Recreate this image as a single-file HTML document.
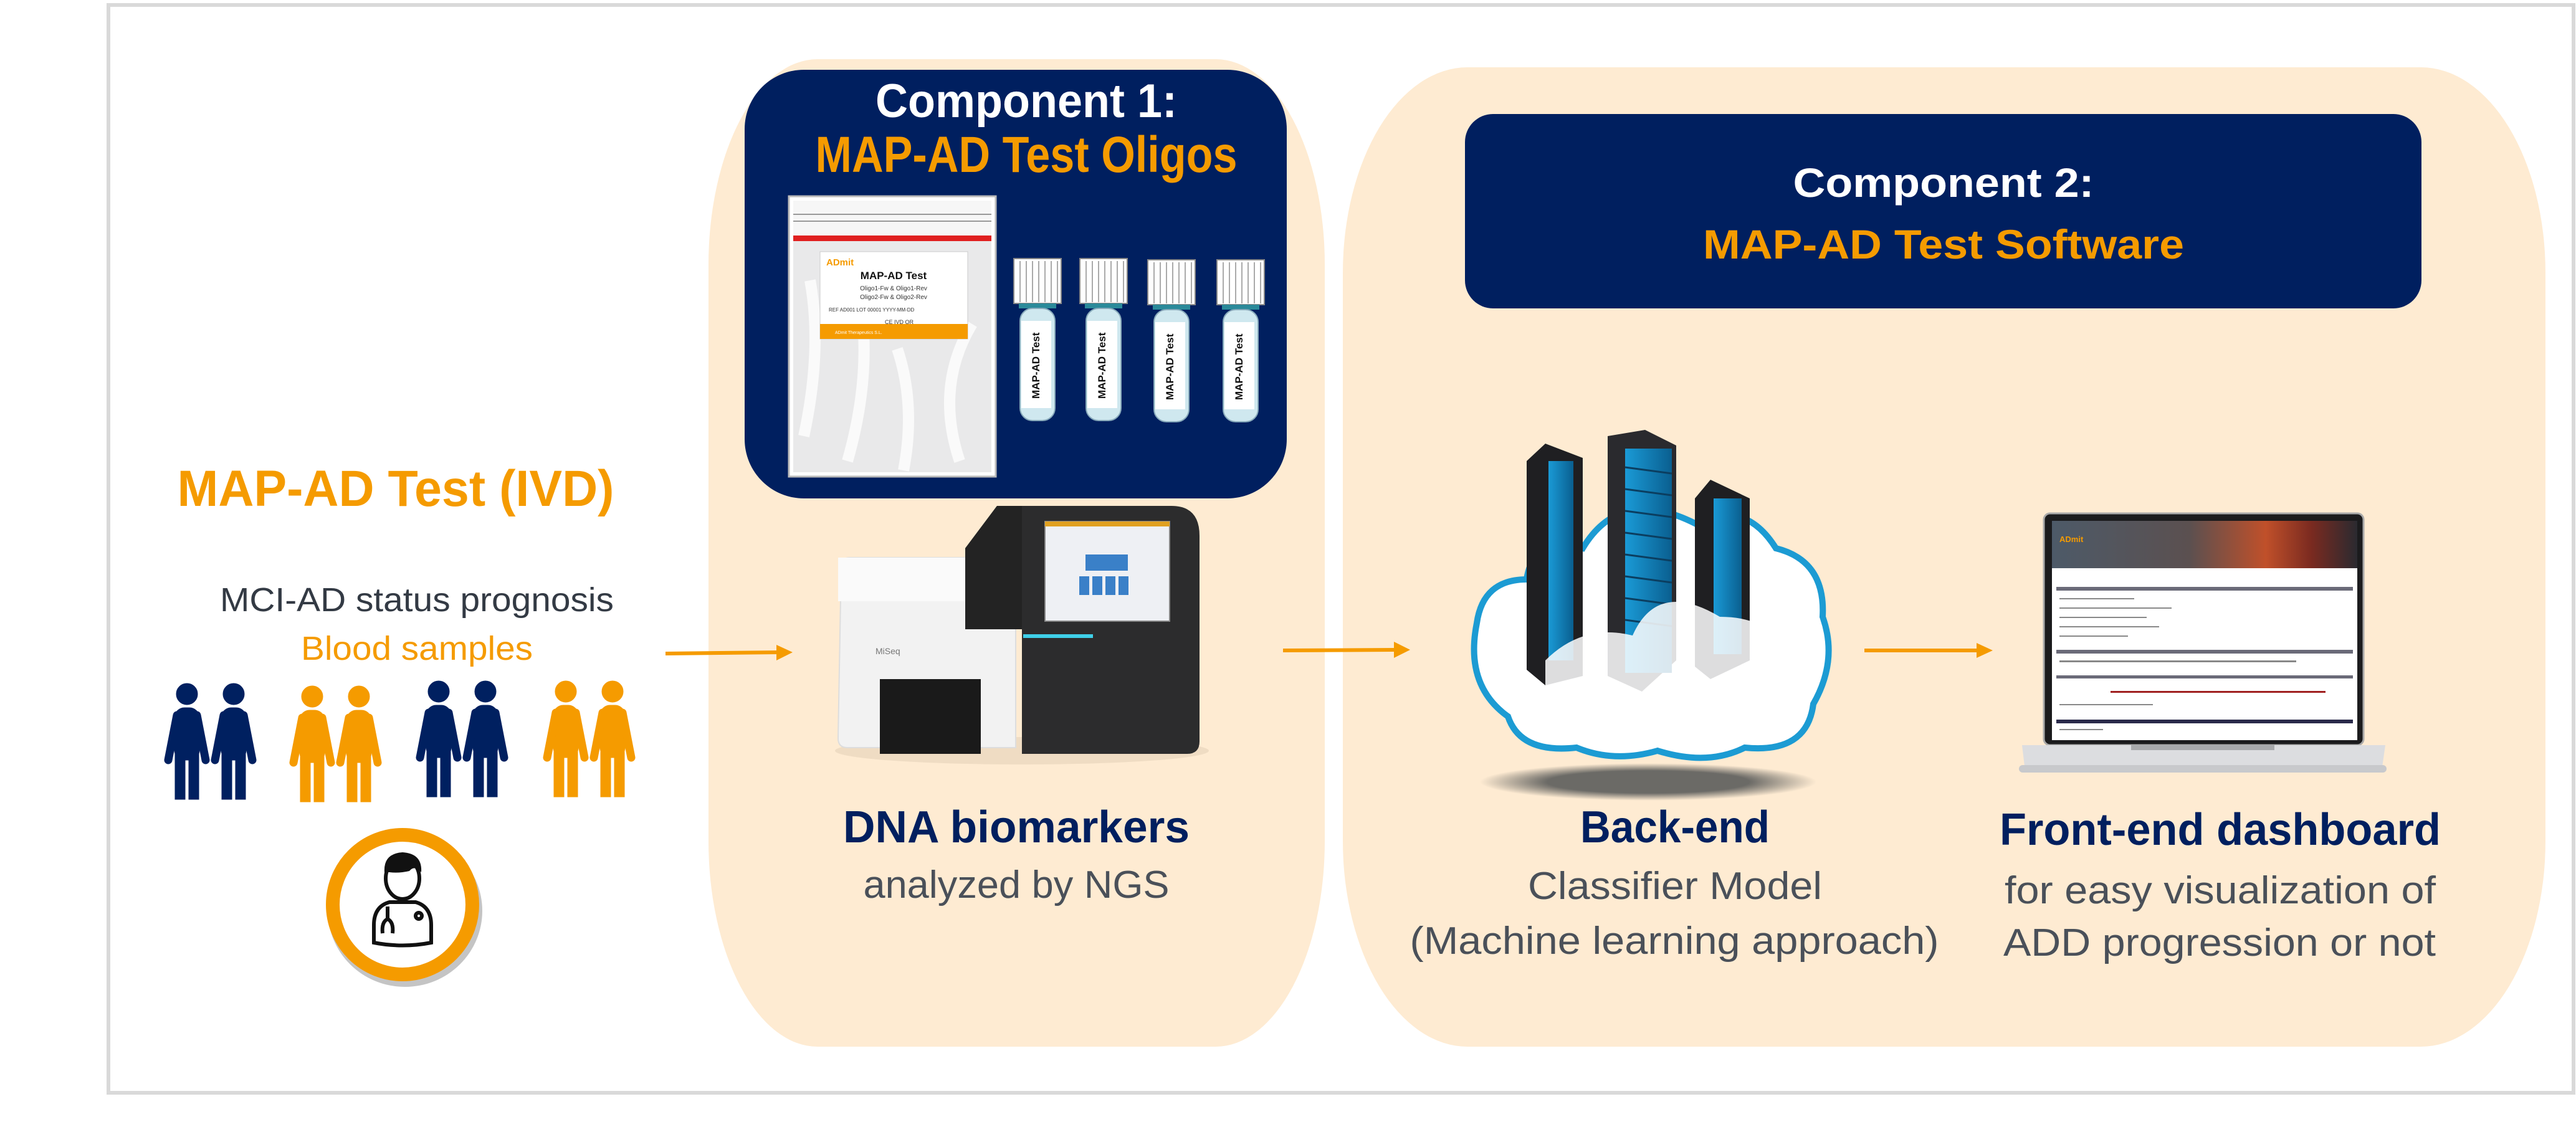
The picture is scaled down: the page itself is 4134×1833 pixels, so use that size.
<!DOCTYPE html>
<html><head><meta charset="utf-8"><style>
html,body{margin:0;padding:0;background:#fff;width:4134px;height:1833px;overflow:hidden}
svg{display:block}
text{font-family:"Liberation Sans",sans-serif}
</style></head><body>
<svg width="4134" height="1833" viewBox="0 0 4134 1833" xmlns="http://www.w3.org/2000/svg">
<defs>
<radialGradient id="sh" cx="50%" cy="50%" r="50%"><stop offset="0.6" stop-color="#6b6a66"/><stop offset="1" stop-color="#6b6a66" stop-opacity="0"/></radialGradient>
<linearGradient id="hdr" x1="0" x2="1"><stop offset="0" stop-color="#4d5a68"/><stop offset="0.45" stop-color="#5b5050"/><stop offset="0.7" stop-color="#c0502a"/><stop offset="0.85" stop-color="#7a2a20"/><stop offset="1" stop-color="#2a2a30"/></linearGradient>
<linearGradient id="srv" x1="0" x2="1"><stop offset="0" stop-color="#1a9ad6"/><stop offset="1" stop-color="#0a5f90"/></linearGradient>
<g id="person">
<circle cx="42" cy="18" r="17"/>
<rect x="22" y="40" width="40" height="84" rx="16"/>
<rect x="23" y="100" width="16" height="87"/>
<rect x="45" y="100" width="16" height="87"/>
<line x1="26" y1="52" x2="12" y2="124" stroke-width="13" stroke-linecap="round"/>
<line x1="58" y1="52" x2="72" y2="124" stroke-width="13" stroke-linecap="round"/>
</g>
<g id="tube">
<rect x="0" y="0" width="76" height="72" fill="#fff" stroke="#888" stroke-width="2"/>
<g stroke="#aaa" stroke-width="2"><line x1="10" y1="4" x2="10" y2="70"/><line x1="20" y1="4" x2="20" y2="70"/><line x1="30" y1="4" x2="30" y2="70"/><line x1="40" y1="4" x2="40" y2="70"/><line x1="50" y1="4" x2="50" y2="70"/><line x1="60" y1="4" x2="60" y2="70"/><line x1="70" y1="4" x2="70" y2="70"/></g>
<rect x="8" y="72" width="60" height="8" fill="#2b8a9a"/>
<rect x="10" y="80" width="56" height="180" rx="20" fill="#cfe8ef" stroke="#8ab" stroke-width="2"/>
<rect x="12" y="100" width="48" height="140" fill="#fff"/>
</g>
</defs>

<!-- outer frame -->
<rect x="174" y="8" width="3956" height="1746" fill="#fff" stroke="#d9d9d9" stroke-width="6"/>

<!-- panels -->
<rect x="1137" y="95" width="989" height="1585" rx="175" ry="330" fill="#feebd2"/>
<rect x="2155" y="108" width="1930" height="1572" rx="200" ry="330" fill="#feebd2"/>

<!-- component 1 navy -->
<rect x="1195" y="112" width="870" height="688" rx="95" fill="#001f5f"/>
<text x="1647" y="188" font-size="76" font-weight="bold" fill="#fff" text-anchor="middle" textLength="484" lengthAdjust="spacingAndGlyphs">Component 1:</text>
<text x="1647" y="276" font-size="82" font-weight="bold" fill="#f59b00" text-anchor="middle" textLength="677" lengthAdjust="spacingAndGlyphs">MAP-AD Test Oligos</text>

<!-- kit bag -->
<rect x="1266" y="315" width="332" height="450" fill="#fff" stroke="#bbb" stroke-width="3"/>
<rect x="1273" y="322" width="318" height="436" fill="#e9e9ea"/>
<path d="M1290 700 Q1320 560 1300 450 M1360 740 Q1400 600 1380 480 M1540 740 Q1500 620 1560 520 M1450 755 Q1470 650 1440 560" stroke="#fafafa" stroke-width="18" fill="none"/>
<rect x="1273" y="322" width="318" height="60" fill="#f6f6f6"/>
<line x1="1273" y1="344" x2="1591" y2="344" stroke="#999" stroke-width="2"/>
<line x1="1273" y1="355" x2="1591" y2="355" stroke="#999" stroke-width="2"/>
<rect x="1273" y="378" width="318" height="9" fill="#e02020"/>
<rect x="1316" y="404" width="237" height="140" fill="#fff" stroke="#ccc"/>
<text x="1326" y="426" font-size="15" font-weight="bold" fill="#f59b00">ADmit</text>
<text x="1434" y="448" font-size="17" font-weight="bold" fill="#111" text-anchor="middle">MAP-AD Test</text>
<text x="1434" y="466" font-size="10" fill="#333" text-anchor="middle">Oligo1-Fw &amp; Oligo1-Rev</text>
<text x="1434" y="480" font-size="10" fill="#333" text-anchor="middle">Oligo2-Fw &amp; Oligo2-Rev</text>
<text x="1330" y="500" font-size="8" fill="#333">REF AD001   LOT 00001   YYYY-MM-DD</text>
<text x="1420" y="520" font-size="9" fill="#333">CE  IVD  QR</text>
<rect x="1316" y="520" width="237" height="24" fill="#f59b00"/>
<text x="1340" y="536" font-size="7" fill="#fff">ADmit Therapeutics S.L.</text>

<!-- tubes -->
<use href="#tube" x="1627" y="415"/>
<use href="#tube" x="1733" y="415"/>
<use href="#tube" x="1842" y="417"/>
<use href="#tube" x="1953" y="417"/>
<g font-size="17" font-weight="bold" fill="#111">
<text transform="translate(1668,640) rotate(-90)">MAP-AD Test</text>
<text transform="translate(1774,640) rotate(-90)">MAP-AD Test</text>
<text transform="translate(1883,642) rotate(-90)">MAP-AD Test</text>
<text transform="translate(1994,642) rotate(-90)">MAP-AD Test</text>
</g>

<!-- sequencer -->
<ellipse cx="1640" cy="1205" rx="300" ry="22" fill="#e8d6bc" opacity="0.7"/>
<path d="M1350 905 Q1350 895 1365 895 L1550 895 L1630 960 L1630 1200 L1360 1200 Q1345 1200 1345 1185 Z" fill="#f2f2f2" stroke="#ddd" stroke-width="2"/>
<rect x="1345" y="895" width="250" height="70" fill="#fafafa"/>
<path d="M1600 812 L1880 812 Q1925 812 1925 860 L1925 1190 Q1925 1210 1905 1210 L1640 1210 L1640 1010 L1549 1010 L1549 880 Z" fill="#2c2c2d"/>
<path d="M1549 880 L1600 812 L1640 812 L1640 1010 L1549 1010 Z" fill="#232323"/>
<rect x="1412" y="1090" width="162" height="120" fill="#1a1a1a"/>
<rect x="1677" y="837" width="200" height="160" fill="#eef0f4" stroke="#888" stroke-width="2"/>
<rect x="1677" y="837" width="200" height="8" fill="#e0a020"/>
<rect x="1742" y="890" width="68" height="26" fill="#3a80c8"/>
<rect x="1732" y="925" width="16" height="30" fill="#3a80c8"/><rect x="1753" y="925" width="16" height="30" fill="#3a80c8"/><rect x="1774" y="925" width="16" height="30" fill="#3a80c8"/><rect x="1795" y="925" width="16" height="30" fill="#3a80c8"/>
<rect x="1642" y="1018" width="112" height="6" fill="#3fd0e8"/>
<text x="1405" y="1050" font-size="14" fill="#777">MiSeq</text>

<text x="1631" y="1352" font-size="72" font-weight="bold" fill="#001f5f" text-anchor="middle" textLength="556" lengthAdjust="spacingAndGlyphs">DNA biomarkers</text>
<text x="1631" y="1441" font-size="62" fill="#4a5059" text-anchor="middle" textLength="491" lengthAdjust="spacingAndGlyphs">analyzed by NGS</text>

<!-- component 2 navy -->
<rect x="2351" y="183" width="1535" height="312" rx="45" fill="#001f5f"/>
<text x="3119" y="316" font-size="66" font-weight="bold" fill="#fff" text-anchor="middle" textLength="483" lengthAdjust="spacingAndGlyphs">Component 2:</text>
<text x="3119" y="415" font-size="66" font-weight="bold" fill="#f59b00" text-anchor="middle" textLength="772" lengthAdjust="spacingAndGlyphs">MAP-AD Test Software</text>

<!-- cloud servers -->
<ellipse cx="2645" cy="1255" rx="270" ry="30" fill="url(#sh)"/>
<g fill="#fff" stroke="#1c9bd3" stroke-width="10">
<path d="M2420 1150 Q2350 1100 2370 1000 Q2380 930 2450 930 Q2460 860 2540 880 Q2600 780 2720 840 Q2800 800 2850 880 Q2930 900 2925 990 Q2950 1060 2910 1130 Q2900 1210 2800 1200 Q2740 1230 2660 1205 Q2590 1225 2530 1200 Q2440 1210 2420 1150 Z"/>
</g>
<g>
<polygon points="2450,740 2480,712 2540,735 2540,1085 2480,1100 2450,1075" fill="#1f1f22"/>
<rect x="2485" y="740" width="40" height="320" fill="url(#srv)"/>
<polygon points="2720,800 2745,770 2808,800 2808,1060 2745,1090 2720,1070" fill="#1f1f22"/>
<rect x="2750" y="800" width="45" height="250" fill="url(#srv)"/>
<polygon points="2580,700 2640,690 2690,715 2690,1060 2635,1110 2580,1085" fill="#2a2a2e"/>
<rect x="2608" y="720" width="75" height="360" fill="url(#srv)"/>
<g stroke="#0b3e60" stroke-width="3">
<line x1="2608" y1="750" x2="2683" y2="760"/><line x1="2608" y1="785" x2="2683" y2="795"/><line x1="2608" y1="820" x2="2683" y2="830"/><line x1="2608" y1="855" x2="2683" y2="865"/><line x1="2608" y1="890" x2="2683" y2="900"/><line x1="2608" y1="925" x2="2683" y2="935"/><line x1="2608" y1="960" x2="2683" y2="970"/><line x1="2608" y1="995" x2="2683" y2="1005"/>
</g>
</g>
<path d="M2480 1060 Q2540 1000 2620 1020 Q2660 930 2760 990 Q2850 990 2870 1060 Q2900 1150 2800 1180 L2480 1180 Z" fill="#fff" opacity="0.85"/>

<text x="2688" y="1352" font-size="72" font-weight="bold" fill="#001f5f" text-anchor="middle" textLength="304" lengthAdjust="spacingAndGlyphs">Back-end</text>
<text x="2688" y="1443" font-size="62" fill="#4a5059" text-anchor="middle" textLength="472" lengthAdjust="spacingAndGlyphs">Classifier Model</text>
<text x="2687" y="1531" font-size="62" fill="#4a5059" text-anchor="middle" textLength="849" lengthAdjust="spacingAndGlyphs">(Machine learning approach)</text>

<!-- laptop -->
<rect x="3280" y="824" width="513" height="372" rx="10" fill="#1b1b1d" stroke="#aaa" stroke-width="3"/>
<rect x="3293" y="836" width="490" height="352" fill="#fff"/>
<rect x="3293" y="836" width="490" height="76" fill="url(#hdr)"/>
<text x="3305" y="870" font-size="13" font-weight="bold" fill="#f59b00">ADmit</text>
<rect x="3300" y="942" width="476" height="6" fill="#6a6a78"/>
<rect x="3300" y="1043" width="476" height="6" fill="#6a6a78"/>
<rect x="3300" y="1084" width="476" height="5" fill="#6a6a78"/>
<rect x="3300" y="1155" width="476" height="6" fill="#2a2a4a"/>
<rect x="3387" y="1109" width="345" height="3" fill="#a02020"/>
<g fill="#888"><rect x="3305" y="960" width="120" height="2"/><rect x="3305" y="975" width="180" height="2"/><rect x="3305" y="990" width="140" height="2"/><rect x="3305" y="1005" width="160" height="2"/><rect x="3305" y="1020" width="110" height="2"/><rect x="3305" y="1060" width="380" height="3"/><rect x="3305" y="1130" width="150" height="2"/><rect x="3305" y="1170" width="70" height="2"/></g>
<path d="M3245 1196 L3828 1196 L3822 1238 L3250 1238 Z" fill="#dcdde0"/>
<rect x="3240" y="1228" width="590" height="12" rx="6" fill="#c8c9cc"/>
<rect x="3420" y="1196" width="230" height="8" fill="#a8a9ac"/>

<text x="3563" y="1356" font-size="72" font-weight="bold" fill="#001f5f" text-anchor="middle" textLength="708" lengthAdjust="spacingAndGlyphs">Front-end dashboard</text>
<text x="3563" y="1450" font-size="62" fill="#4a5059" text-anchor="middle" textLength="692" lengthAdjust="spacingAndGlyphs">for easy visualization of</text>
<text x="3562" y="1534" font-size="62" fill="#4a5059" text-anchor="middle" textLength="694" lengthAdjust="spacingAndGlyphs">ADD progression or not</text>

<!-- left column -->
<text x="635" y="812" font-size="82" font-weight="bold" fill="#f59b00" text-anchor="middle" textLength="701" lengthAdjust="spacingAndGlyphs">MAP-AD Test (IVD)</text>
<text x="669" y="981" font-size="54" fill="#333a44" text-anchor="middle" textLength="632" lengthAdjust="spacingAndGlyphs">MCI-AD status prognosis</text>
<text x="669" y="1059" font-size="54" fill="#f59b00" text-anchor="middle" textLength="372" lengthAdjust="spacingAndGlyphs">Blood samples</text>

<g fill="#002060" stroke="#002060"><use href="#person" x="258" y="1096"/><use href="#person" x="333" y="1096"/></g>
<g fill="#f59b00" stroke="#f59b00"><use href="#person" x="459" y="1100"/><use href="#person" x="534" y="1100"/></g>
<g fill="#002060" stroke="#002060"><use href="#person" x="662" y="1092"/><use href="#person" x="737" y="1092"/></g>
<g fill="#f59b00" stroke="#f59b00"><use href="#person" x="866" y="1092"/><use href="#person" x="941" y="1092"/></g>

<!-- doctor -->
<ellipse cx="650" cy="1462" rx="124" ry="122" fill="#555" opacity="0.35"/>
<circle cx="646" cy="1452" r="112" fill="#fff" stroke="#f59b00" stroke-width="22"/>
<g fill="none" stroke="#111" stroke-width="6">
<path d="M600 1485 Q600 1455 625 1448 L667 1448 Q692 1455 692 1485 L692 1513 Q646 1522 600 1513 Z"/>
<ellipse cx="646" cy="1410" rx="27" ry="33"/>
<path d="M622 1455 L622 1475 Q612 1480 614 1498 M622 1475 Q632 1480 630 1498"/>
<circle cx="672" cy="1470" r="5"/>
</g>
<path d="M617 1400 Q615 1370 646 1368 Q678 1370 676 1400 Q665 1388 657 1398 Q640 1402 625 1400 Z" fill="#111"/>

<!-- arrows -->
<g stroke="#f59b00" stroke-width="6" fill="#f59b00">
<line x1="1068" y1="1049" x2="1250" y2="1047"/>
<polygon points="1246,1035 1272,1047 1246,1060" stroke="none"/>
<line x1="2059" y1="1044" x2="2240" y2="1043"/>
<polygon points="2237,1030 2263,1043 2237,1056" stroke="none"/>
<line x1="2992" y1="1044" x2="3175" y2="1044"/>
<polygon points="3172,1032 3198,1044 3172,1056" stroke="none"/>
</g>
</svg>
</body></html>
